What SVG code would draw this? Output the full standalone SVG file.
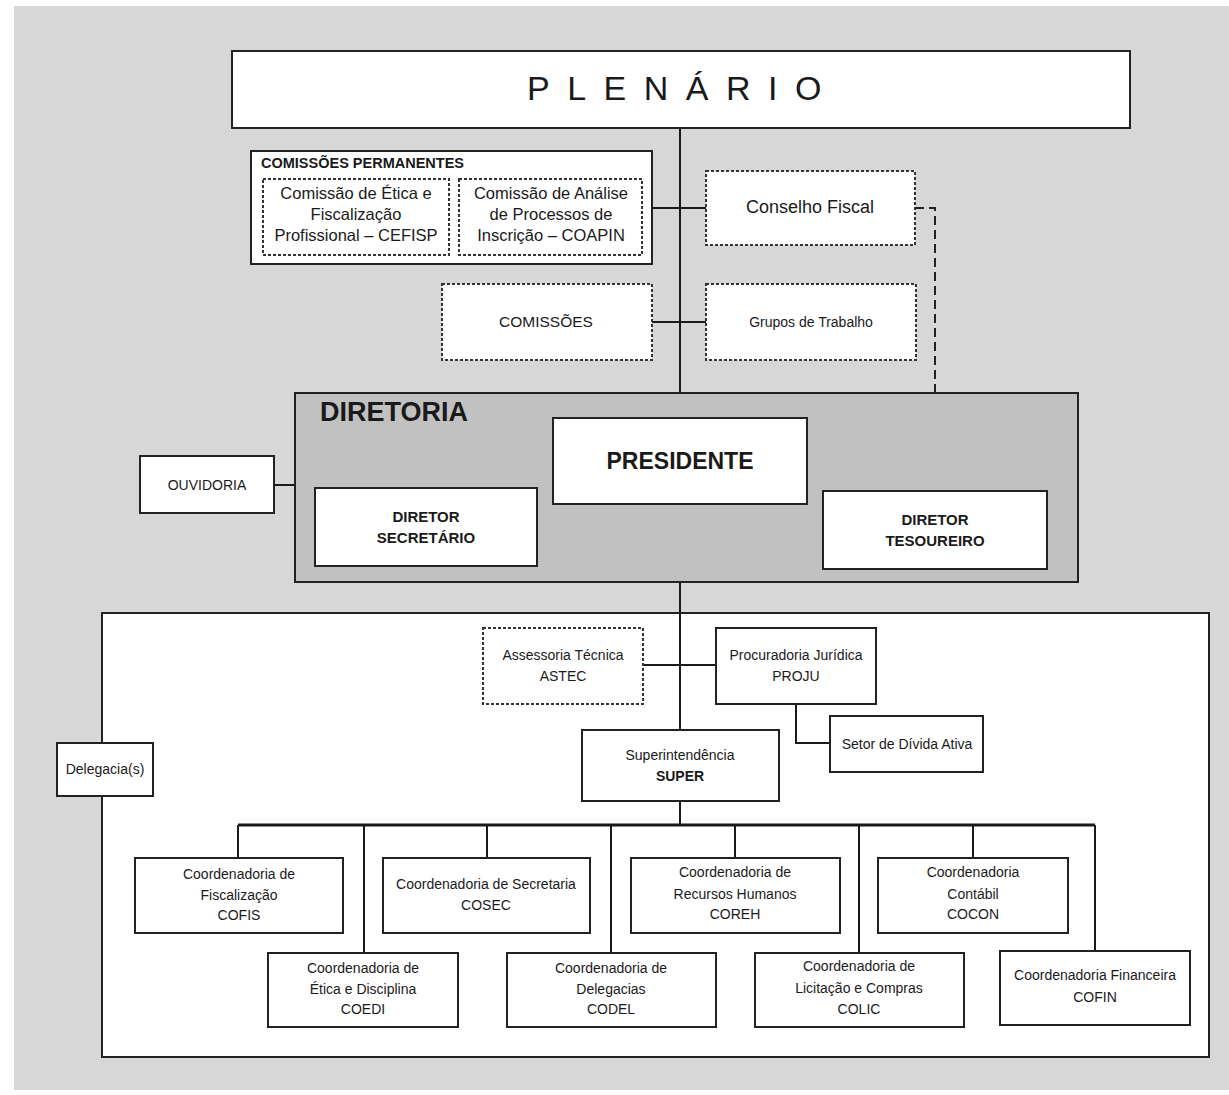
<svg xmlns="http://www.w3.org/2000/svg" width="1229" height="1095" viewBox="0 0 1229 1095">
<style>
.box{fill:#fff;stroke:#222;stroke-width:2}
.dash{fill:#fff;stroke:#333;stroke-width:2;stroke-dasharray:3 2}
.ln{fill:none;stroke:#1a1a1a;stroke-width:2}
.dl{fill:none;stroke:#222;stroke-width:2;stroke-dasharray:9 5}
text{font-family:"Liberation Sans",Arial,sans-serif;fill:#1a1a1a;text-anchor:middle}
.n{font-family:"Liberation Sans Narrow","Liberation Sans",Arial,sans-serif;font-size:14px}
.r{font-size:16.5px}
.b{font-weight:bold}
</style>
<rect x="0" y="0" width="1229" height="1095" fill="#fff"/>
<rect x="14" y="6" width="1215" height="1084" fill="#d7d7d7"/>

<g id="area-executiva">
<rect class="box" x="102" y="613" width="1107" height="444"/>
</g>

<g id="connectors">
<line class="ln" x1="680" y1="128" x2="680" y2="393"/>
<line class="ln" x1="652" y1="208" x2="706" y2="208"/>
<line class="ln" x1="652" y1="322" x2="706" y2="322"/>
<polyline class="dl" points="915,208 935,208 935,491"/>
<line class="ln" x1="274" y1="485" x2="295" y2="485"/>
<line class="ln" x1="680" y1="582" x2="680" y2="730"/>
<line class="ln" x1="643" y1="665" x2="716" y2="665"/>
<polyline class="ln" points="796,704 796,743 830,743"/>
<line class="ln" x1="680" y1="801" x2="680" y2="825"/>
<line class="ln" x1="238" y1="825" x2="1095" y2="825" style="stroke-width:3"/>
<line class="ln" x1="238" y1="825" x2="238" y2="858"/>
<line class="ln" x1="364" y1="825" x2="364" y2="953"/>
<line class="ln" x1="487" y1="825" x2="487" y2="858"/>
<line class="ln" x1="611" y1="825" x2="611" y2="953"/>
<line class="ln" x1="735" y1="825" x2="735" y2="858"/>
<line class="ln" x1="859" y1="825" x2="859" y2="953"/>
<line class="ln" x1="973" y1="825" x2="973" y2="858"/>
<line class="ln" x1="1095" y1="825" x2="1095" y2="951"/>
</g>

<g id="plenario">
<rect class="box" x="232" y="51" width="898" height="77"/>
<text x="683" y="100" style="font-size:34px;letter-spacing:17.5px">PLENÁRIO</text>
</g>

<g id="comissoes-permanentes">
<rect class="box" x="251" y="151" width="401" height="113"/>
<text class="n b" x="261" y="168" style="text-anchor:start;font-size:14.5px">COMISSÕES PERMANENTES</text>
</g>
<g id="cefisp">
<rect class="dash" x="263" y="179" width="186" height="76"/>
<text class="r" x="356" y="199">Comissão de Ética e</text>
<text class="r" x="356" y="220">Fiscalização</text>
<text class="r" x="356" y="241">Profissional – CEFISP</text>
</g>
<g id="coapin">
<rect class="dash" x="459" y="179" width="183" height="76"/>
<text class="r" x="551" y="199">Comissão de Análise</text>
<text class="r" x="551" y="220">de Processos de</text>
<text class="r" x="551" y="241">Inscrição – COAPIN</text>
</g>
<g id="conselho-fiscal">
<rect class="dash" x="706" y="171" width="209" height="74"/>
<text x="810" y="213" style="font-size:18px">Conselho Fiscal</text>
</g>
<g id="comissoes">
<rect class="dash" x="442" y="284" width="210" height="76"/>
<text class="n" x="546" y="327" style="font-size:15.5px">COMISSÕES</text>
</g>
<g id="grupos-de-trabalho">
<rect class="dash" x="706" y="284" width="210" height="76"/>
<text class="n" x="811" y="327">Grupos de Trabalho</text>
</g>

<g id="diretoria">
<rect x="295" y="393" width="783" height="189" fill="#c1c1c1" stroke="#222" stroke-width="2"/>
<text class="n b" x="320" y="421" style="text-anchor:start;font-size:27px">DIRETORIA</text>
</g>
<g id="presidente">
<rect class="box" x="553" y="418" width="254" height="86"/>
<text class="n b" x="680" y="469" style="font-size:23px">PRESIDENTE</text>
</g>
<g id="diretor-secretario">
<rect class="box" x="315" y="488" width="222" height="78"/>
<text class="n b" x="426" y="522" style="font-size:15px">DIRETOR</text>
<text class="n b" x="426" y="543" style="font-size:15px">SECRETÁRIO</text>
</g>
<g id="diretor-tesoureiro">
<rect class="box" x="823" y="491" width="224" height="78"/>
<text class="n b" x="935" y="525" style="font-size:15px">DIRETOR</text>
<text class="n b" x="935" y="546" style="font-size:15px">TESOUREIRO</text>
</g>
<g id="ouvidoria">
<rect class="box" x="140" y="456" width="134" height="57"/>
<text class="n" x="207" y="490">OUVIDORIA</text>
</g>

<g id="astec">
<rect class="dash" x="483" y="628" width="160" height="76"/>
<text class="n" x="563" y="660">Assessoria Técnica</text>
<text class="n" x="563" y="681">ASTEC</text>
</g>
<g id="proju">
<rect class="box" x="716" y="628" width="160" height="76"/>
<text class="n" x="796" y="660">Procuradoria Jurídica</text>
<text class="n" x="796" y="681">PROJU</text>
</g>
<g id="divida-ativa">
<rect class="box" x="830" y="716" width="153" height="56"/>
<text class="n" x="907" y="749">Setor de Dívida Ativa</text>
</g>
<g id="super">
<rect class="box" x="582" y="730" width="197" height="71"/>
<text class="n" x="680" y="760">Superintendência</text>
<text class="n b" x="680" y="781">SUPER</text>
</g>
<g id="delegacias">
<rect class="box" x="57" y="743" width="96" height="53"/>
<text class="n" x="105" y="774">Delegacia(s)</text>
</g>

<g id="cofis">
<rect class="box" x="135" y="858" width="208" height="75"/>
<text class="n" x="239" y="879">Coordenadoria de</text>
<text class="n" x="239" y="900">Fiscalização</text>
<text class="n" x="239" y="920">COFIS</text>
</g>
<g id="cosec">
<rect class="box" x="383" y="858" width="207" height="75"/>
<text class="n" x="486" y="889">Coordenadoria de Secretaria</text>
<text class="n" x="486" y="910">COSEC</text>
</g>
<g id="coreh">
<rect class="box" x="631" y="858" width="209" height="75"/>
<text class="n" x="735" y="877">Coordenadoria de</text>
<text class="n" x="735" y="899">Recursos Humanos</text>
<text class="n" x="735" y="919">COREH</text>
</g>
<g id="cocon">
<rect class="box" x="878" y="858" width="190" height="75"/>
<text class="n" x="973" y="877">Coordenadoria</text>
<text class="n" x="973" y="899">Contábil</text>
<text class="n" x="973" y="919">COCON</text>
</g>
<g id="coedi">
<rect class="box" x="268" y="953" width="190" height="74"/>
<text class="n" x="363" y="973">Coordenadoria de</text>
<text class="n" x="363" y="994">Ética e Disciplina</text>
<text class="n" x="363" y="1014">COEDI</text>
</g>
<g id="codel">
<rect class="box" x="507" y="953" width="209" height="74"/>
<text class="n" x="611" y="973">Coordenadoria de</text>
<text class="n" x="611" y="994">Delegacias</text>
<text class="n" x="611" y="1014">CODEL</text>
</g>
<g id="colic">
<rect class="box" x="755" y="953" width="209" height="74"/>
<text class="n" x="859" y="971">Coordenadoria de</text>
<text class="n" x="859" y="993">Licitação e Compras</text>
<text class="n" x="859" y="1014">COLIC</text>
</g>
<g id="cofin">
<rect class="box" x="1000" y="951" width="190" height="74"/>
<text class="n" x="1095" y="980">Coordenadoria Financeira</text>
<text class="n" x="1095" y="1002">COFIN</text>
</g>
</svg>
